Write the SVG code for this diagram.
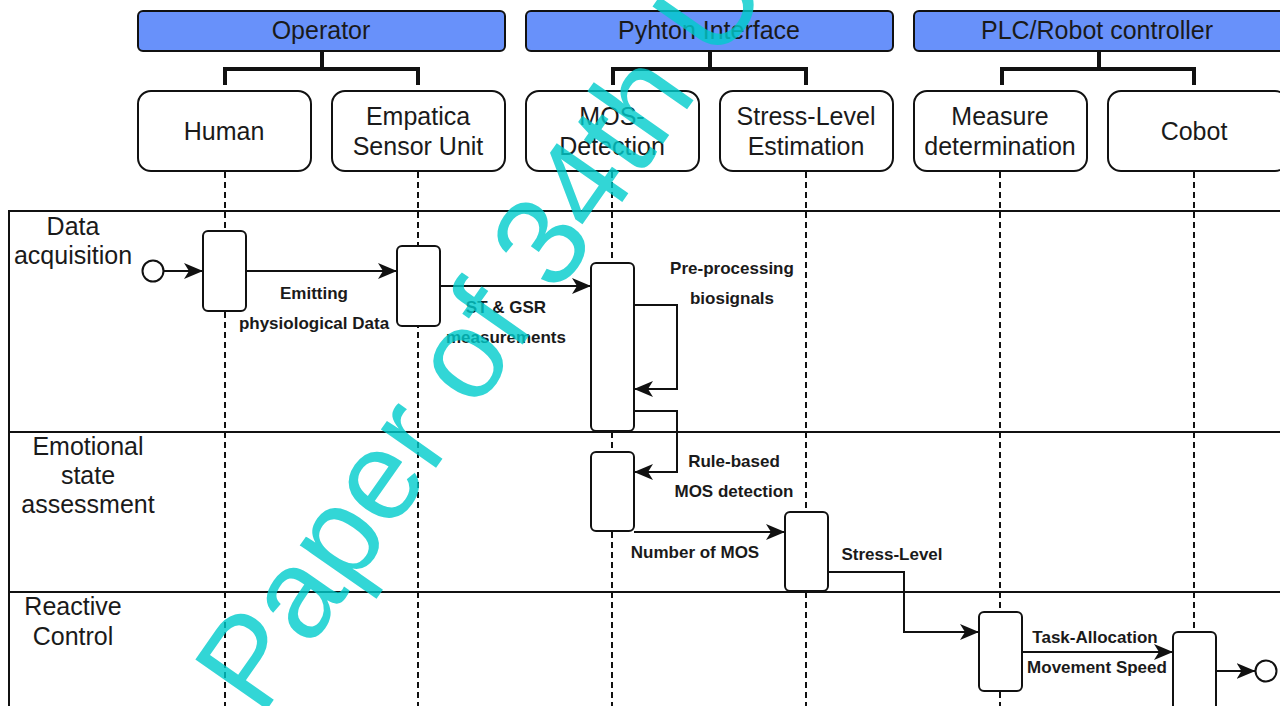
<svg xmlns="http://www.w3.org/2000/svg" width="1280" height="706" viewBox="0 0 1280 706">
<style>
.hdr{fill:#6891fa;stroke:#111;stroke-width:2}
.box{fill:#fff;stroke:#111;stroke-width:2}
.act{fill:#fff;stroke:#111;stroke-width:2}
.t{font-family:"Liberation Sans",Arial,sans-serif;font-size:25px;fill:#1a1a1a;text-anchor:middle}
.b{font-family:"Liberation Sans",Arial,sans-serif;font-size:17px;font-weight:bold;fill:#1a1a1a;text-anchor:middle}
.br{fill:none;stroke:#111;stroke-width:4}
.life{stroke:#111;stroke-width:2;stroke-dasharray:6 4;fill:none}
.lane{stroke:#111;stroke-width:2;fill:none}
.c{stroke:#111;stroke-width:2;fill:none;marker-end:url(#ah)}
.ev{fill:#fff;stroke:#111;stroke-width:2}
.wm{font-family:"Liberation Sans",Arial,sans-serif;font-size:127px;fill:#00cccc;opacity:0.8}
</style>
<defs>
<marker id="ah" markerUnits="userSpaceOnUse" markerWidth="22" markerHeight="18" refX="19" refY="8" orient="auto">
<path d="M0,0 L19,8 L0,16 L5,8 Z" fill="#111"/>
</marker>
</defs>
<rect width="1280" height="706" fill="#fff"/>

<g id="lanes">
<path class="lane" d="M9,706 V211 H1282 M9,432 H1282 M9,592 H1282"/>
<text class="t" x="73" y="235">Data</text>
<text class="t" x="73" y="264">acquisition</text>
<text class="t" x="88" y="455">Emotional</text>
<text class="t" x="88" y="484">state</text>
<text class="t" x="88" y="513">assessment</text>
<text class="t" x="73" y="615">Reactive</text>
<text class="t" x="73" y="645">Control</text>
</g>

<g id="lifelines">
<path class="life" d="M225,172 V706 M418,172 V706 M612,172 V706 M806,172 V706 M1000,172 V706 M1194,172 V706"/>
</g>

<g id="operator">
<rect class="hdr" x="138" y="11" width="367" height="40" rx="5"/>
<text class="t" x="321" y="39">Operator</text>
<path class="br" d="M322,51 V69 M225,85 V69 H418 V85"/>
</g>
<g id="python">
<rect class="hdr" x="526" y="11" width="367" height="40" rx="5"/>
<text class="t" x="709" y="39">Pyhton Interface</text>
<path class="br" d="M710,51 V69 M613,85 V69 H806 V85"/>
</g>
<g id="plc">
<rect class="hdr" x="914" y="11" width="380" height="40" rx="5"/>
<text class="t" x="1097" y="39">PLC/Robot controller</text>
<path class="br" d="M1099,51 V69 M1002,85 V69 H1194 V85"/>
</g>

<g id="human"><rect class="box" x="138" y="91" width="173" height="80" rx="13"/><text class="t" x="224" y="140">Human</text></g>
<g id="empatica"><rect class="box" x="332" y="91" width="173" height="80" rx="13"/><text class="t" x="418" y="125">Empatica</text><text class="t" x="418" y="155">Sensor Unit</text></g>
<g id="mos"><rect class="box" x="526" y="91" width="173" height="80" rx="13"/><text class="t" x="612" y="125">MOS-</text><text class="t" x="612" y="155">Detection</text></g>
<g id="stress"><rect class="box" x="720" y="91" width="173" height="80" rx="13"/><text class="t" x="806" y="125">Stress-Level</text><text class="t" x="806" y="155">Estimation</text></g>
<g id="measure"><rect class="box" x="914" y="91" width="173" height="80" rx="13"/><text class="t" x="1000" y="125">Measure</text><text class="t" x="1000" y="155">determination</text></g>
<g id="cobot"><rect class="box" x="1108" y="91" width="180" height="80" rx="13"/><text class="t" x="1194" y="140">Cobot</text></g>

<g id="activations">
<rect id="act-human" class="act" x="203" y="231" width="43" height="80" rx="5"/>
<rect id="act-empatica" class="act" x="397" y="246" width="43" height="80" rx="5"/>
<rect id="act-mos1" class="act" x="591" y="263" width="43" height="168" rx="5"/>
<rect id="act-mos2" class="act" x="591" y="452" width="43" height="79" rx="5"/>
<rect id="act-stress" class="act" x="785" y="512" width="43" height="79" rx="5"/>
<rect id="act-measure" class="act" x="979" y="612" width="43" height="79" rx="5"/>
<rect id="act-cobot" class="act" x="1173" y="632" width="43" height="90" rx="5"/>
</g>

<g id="start"><circle class="ev" cx="153" cy="271" r="10.5"/></g>
<g id="end"><circle class="ev" cx="1266" cy="671" r="10.5"/></g>

<g id="connectors">
<path class="c" d="M164,271 H203"/>
<path class="c" d="M246,271 H397"/>
<path class="c" d="M440,286 H591"/>
<path class="c" d="M634,305 H677 V389 H634"/>
<path class="c" d="M634,411 H677 V472 H634"/>
<path class="c" d="M634,532 H785"/>
<path class="c" d="M828,572 H904 V632 H979"/>
<path class="c" d="M1022,652 H1173"/>
<path class="c" d="M1216,671 H1255.5"/>
<text class="b" x="314" y="299">Emitting</text>
<text class="b" x="314" y="329">physiological Data</text>
<text class="b" x="506" y="313">ST &amp; GSR</text>
<text class="b" x="506" y="343">measurements</text>
<text class="b" x="732" y="274">Pre-processing</text>
<text class="b" x="732" y="304">biosignals</text>
<text class="b" x="734" y="467">Rule-based</text>
<text class="b" x="734" y="497">MOS detection</text>
<text class="b" x="695" y="558">Number of MOS</text>
<text class="b" x="892" y="560">Stress-Level</text>
<text class="b" x="1095" y="643">Task-Allocation</text>
<text class="b" x="1097" y="673">Movement Speed</text>
</g>

<text class="wm" transform="translate(261,718) rotate(-55)">Paper of 34th U</text>
</svg>
